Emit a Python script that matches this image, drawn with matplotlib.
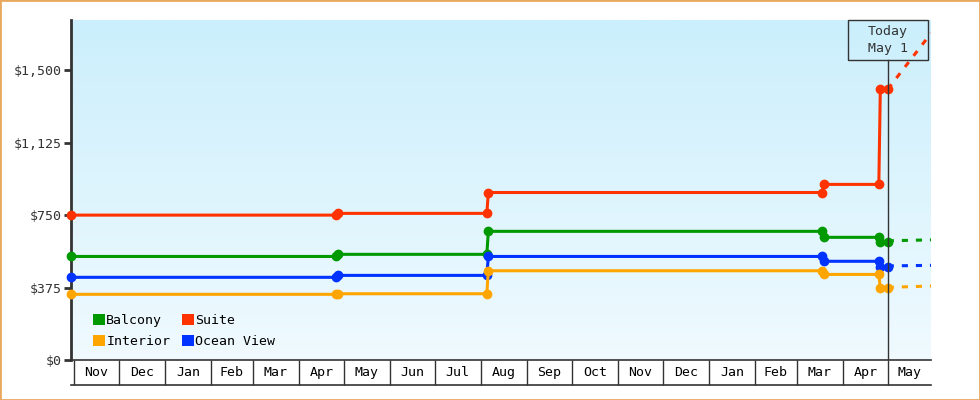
import datetime as dt
import numpy as np
import matplotlib
matplotlib.use('Agg')
import matplotlib.pyplot as plt
import matplotlib.dates as mdates
from matplotlib.patches import Rectangle, Patch

plt.rcParams['font.family'] = 'DejaVu Sans Mono'
plt.rcParams['font.size'] = 9.5

#------------------------------------------------------------
# price history (date, price) for each cabin type
suite_dates = ['2021-10-30', '2022-04-26', '2022-04-27', '2022-08-05', '2022-08-06',
               '2023-03-18', '2023-03-19', '2023-04-25', '2023-04-26', '2023-05-01']
suite_vals = [750, 750, 759, 759, 867, 867, 909, 909, 1402, 1402]

balcony_dates = suite_dates
balcony_vals = [536, 536, 547, 547, 666, 666, 635, 635, 609, 609]

ocean_dates = suite_dates
ocean_vals = [428, 428, 438, 438, 536, 536, 511, 511, 483, 483]

interior_dates = suite_dates
interior_vals = [340, 340, 343, 343, 462, 462, 443, 443, 371, 371]

# forecast after today
fc_dates = ['2023-05-01', '2023-05-30']
suite_fc = [1402, 1691]
balcony_fc = [617, 622]
ocean_fc = [487, 490]
interior_fc = [376, 383]

today = '2023-05-01'
x_start, x_end = '2021-10-30', '2023-05-30'
y_ticks = [0, 375, 750, 1125, 1500]

colors = {'Balcony': '#009900', 'Interior': '#ffa500',
          'Suite': '#ff3300', 'Ocean View': '#0033ff'}


def d(s):
    return mdates.date2num(dt.datetime.strptime(s, '%Y-%m-%d'))


#------------------------------------------------------------
fig = plt.figure(figsize=(9.8, 4), dpi=100)
ax = fig.add_axes([71 / 980, 40 / 400, 860 / 980, 340 / 400])

x0, x1 = d(x_start), d(x_end)
ymax = 1760

# gradient background
grad = np.linspace(0, 1, 256)[:, None]
top = np.array([203, 239, 252]) / 255.
bot = np.array([240, 250, 255]) / 255.
img = top[None, None, :] * (1 - grad[..., None]) + bot[None, None, :] * grad[..., None]
ax.imshow(img, extent=(x0, x1, 0, ymax), aspect='auto', zorder=0)

series = [('Suite', suite_dates, suite_vals, suite_fc),
          ('Balcony', balcony_dates, balcony_vals, balcony_fc),
          ('Ocean View', ocean_dates, ocean_vals, ocean_fc),
          ('Interior', interior_dates, interior_vals, interior_fc)]

for name, dates, vals, fc in series:
    c = colors[name]
    ax.plot([d(s) for s in dates], vals, c=c, lw=2.2, marker='o', ms=6,
            zorder=3, clip_on=False)
    ax.plot([d(s) for s in fc_dates], fc, c=c, lw=2.2,
            linestyle=(0, (2, 2.6)), zorder=3)

# today marker
t = d(today)
box_h = 40 / 340
ax.plot([t, t], [0, 1 - box_h], color='#333333', lw=1,
        transform=ax.get_xaxis_transform(), zorder=4)
ax.add_patch(Rectangle((t - 27, 1 - box_h), 54, box_h, fill=False,
                       edgecolor='#333333', lw=1,
                       transform=ax.get_xaxis_transform(), clip_on=False, zorder=4))
ax.text(t, 1 - box_h / 2, 'Today\nMay 1', ha='center', va='center',
        color='#333333', linespacing=1.45, transform=ax.get_xaxis_transform())

ax.set_xlim(x0, x1)
ax.set_ylim(0, ymax)

# y axis
ax.set_yticks(y_ticks)
ax.set_yticklabels(['${:,}'.format(v) for v in y_ticks])
ax.tick_params(axis='y', length=5, width=2, color='#333333', labelcolor='#333333', pad=2)

# x axis: month boxes
ax.xaxis.set_major_locator(mdates.MonthLocator())
ax.xaxis.set_major_formatter(plt.NullFormatter())
starts = [m for m in ax.xaxis.get_major_locator()() if x0 <= m <= x1]
ends = starts[1:] + [x1]
mids = [(a + b) / 2 for a, b in zip(starts, ends)]
ax.set_xticks(mids, minor=True)
ax.set_xticklabels([mdates.num2date(m).strftime('%b') for m in mids], minor=True)
ax.tick_params(axis='x', which='major', length=18, width=1, color='#333333', direction='out')
ax.tick_params(axis='x', which='minor', length=0, pad=4, labelcolor='black')
ax.plot([0, 1], [-25 / 340] * 2, color='#333333', lw=1.2,
        transform=ax.transAxes, clip_on=False)

for s in ['top', 'right']:
    ax.spines[s].set_visible(False)
ax.spines['left'].set_linewidth(2)
ax.spines['left'].set_color('#333333')
ax.spines['bottom'].set_linewidth(1.2)
ax.spines['bottom'].set_color('#333333')

# legend
handles = [Patch(facecolor=colors[n], edgecolor='none', label=n)
           for n in ['Balcony', 'Interior', 'Suite', 'Ocean View']]
ax.legend(handles=handles, ncol=2, loc='lower left', bbox_to_anchor=(0.018, 0.015),
          frameon=False, borderpad=0, handlelength=0.9, handleheight=0.9,
          handletextpad=0.1, columnspacing=0.9, labelspacing=0.6)

# orange frame round the whole figure
fig.patches.append(Rectangle((0, 0), 1, 1, transform=fig.transFigure, fill=False,
                             edgecolor='#e8a860', lw=2))

fig.savefig('out.png', dpi=100)
